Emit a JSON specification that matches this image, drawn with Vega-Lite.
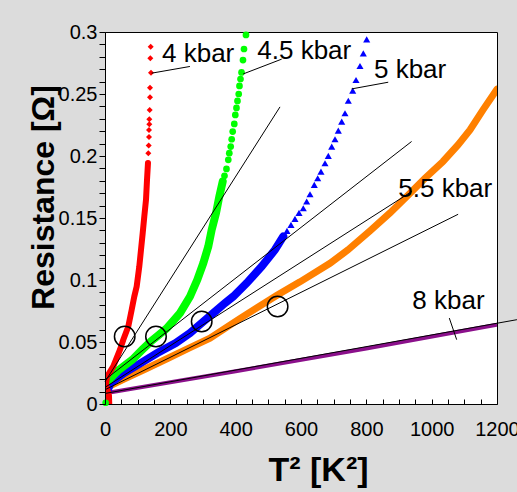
{
  "$schema": "https://vega.github.io/schema/vega-lite/v6.json",
  "width": 392,
  "height": 372,
  "autosize": {"type": "none"},
  "padding": {"left": 105, "top": 32, "right": 20, "bottom": 88},
  "background": "#dcdcdc",
  "config": {
    "view": {"stroke": "black", "strokeWidth": 1, "fill": "white"},
    "font": "Liberation Sans",
    "axis": {"ticks": true, "tickColor": "black", "tickOpacity": 1, "tickWidth": 1}
  },
  "datasets": {
    "bands": [
      {"s": "4 kbar", "i": 0, "x": 13, "y": 0},
      {"s": "4 kbar", "i": 1, "x": 12.2, "y": 0.0067},
      {"s": "4 kbar", "i": 2, "x": 3.1, "y": 0.0156},
      {"s": "4 kbar", "i": 3, "x": 6.1, "y": 0.022},
      {"s": "4 kbar", "i": 4, "x": 25.4, "y": 0.0303},
      {"s": "4 kbar", "i": 5, "x": 45.9, "y": 0.0438},
      {"s": "4 kbar", "i": 6, "x": 56.0, "y": 0.0518},
      {"s": "4 kbar", "i": 7, "x": 71.3, "y": 0.0625},
      {"s": "4 kbar", "i": 8, "x": 81.7, "y": 0.076},
      {"s": "4 kbar", "i": 9, "x": 89.7, "y": 0.0867},
      {"s": "4 kbar", "i": 10, "x": 97.0, "y": 0.0948},
      {"s": "4 kbar", "i": 11, "x": 105.0, "y": 0.1109},
      {"s": "4 kbar", "i": 12, "x": 110.2, "y": 0.1244},
      {"s": "4 kbar", "i": 13, "x": 115.4, "y": 0.1378},
      {"s": "4 kbar", "i": 14, "x": 120.3, "y": 0.1512},
      {"s": "4 kbar", "i": 15, "x": 125.5, "y": 0.1646},
      {"s": "4 kbar", "i": 16, "x": 128.6, "y": 0.1807},
      {"s": "4 kbar", "i": 17, "x": 131.6, "y": 0.1944},
      {"s": "4.5 kbar", "i": 0, "x": 0, "y": 0.0172},
      {"s": "4.5 kbar", "i": 1, "x": 12.2, "y": 0.0196},
      {"s": "4.5 kbar", "i": 2, "x": 42.9, "y": 0.0276},
      {"s": "4.5 kbar", "i": 3, "x": 83.6, "y": 0.0357},
      {"s": "4.5 kbar", "i": 4, "x": 114.2, "y": 0.0438},
      {"s": "4.5 kbar", "i": 5, "x": 139.3, "y": 0.0502},
      {"s": "4.5 kbar", "i": 6, "x": 163.2, "y": 0.0553},
      {"s": "4.5 kbar", "i": 7, "x": 188.9, "y": 0.061},
      {"s": "4.5 kbar", "i": 8, "x": 229.6, "y": 0.0733},
      {"s": "4.5 kbar", "i": 9, "x": 260.2, "y": 0.0867},
      {"s": "4.5 kbar", "i": 10, "x": 282.5, "y": 0.1002},
      {"s": "4.5 kbar", "i": 11, "x": 300.9, "y": 0.1136},
      {"s": "4.5 kbar", "i": 12, "x": 316.2, "y": 0.127},
      {"s": "4.5 kbar", "i": 13, "x": 326.6, "y": 0.1405},
      {"s": "4.5 kbar", "i": 14, "x": 339.8, "y": 0.1539},
      {"s": "4.5 kbar", "i": 15, "x": 349.9, "y": 0.1673},
      {"s": "4.5 kbar", "i": 16, "x": 360.3, "y": 0.1794},
      {"s": "5 kbar", "i": 0, "x": 6, "y": 0.0},
      {"s": "5 kbar", "i": 1, "x": 6, "y": 0.0099},
      {"s": "5 kbar", "i": 2, "x": 17.4, "y": 0.0169},
      {"s": "5 kbar", "i": 3, "x": 58.2, "y": 0.025},
      {"s": "5 kbar", "i": 4, "x": 109.3, "y": 0.033},
      {"s": "5 kbar", "i": 5, "x": 160.1, "y": 0.0411},
      {"s": "5 kbar", "i": 6, "x": 216.4, "y": 0.0492},
      {"s": "5 kbar", "i": 7, "x": 260.2, "y": 0.0572},
      {"s": "5 kbar", "i": 8, "x": 296.0, "y": 0.0653},
      {"s": "5 kbar", "i": 9, "x": 331.5, "y": 0.0733},
      {"s": "5 kbar", "i": 10, "x": 367.3, "y": 0.0814},
      {"s": "5 kbar", "i": 11, "x": 392.7, "y": 0.0867},
      {"s": "5 kbar", "i": 12, "x": 433.8, "y": 0.0975},
      {"s": "5 kbar", "i": 13, "x": 479.7, "y": 0.1109},
      {"s": "5 kbar", "i": 14, "x": 520.4, "y": 0.1244},
      {"s": "5 kbar", "i": 15, "x": 545.8, "y": 0.1351},
      {"s": "5.5 kbar", "i": 0, "x": 0, "y": 0.0127},
      {"s": "5.5 kbar", "i": 1, "x": 61.2, "y": 0.0204},
      {"s": "5.5 kbar", "i": 2, "x": 125.5, "y": 0.0284},
      {"s": "5.5 kbar", "i": 3, "x": 192.8, "y": 0.0369},
      {"s": "5.5 kbar", "i": 4, "x": 260.2, "y": 0.0454},
      {"s": "5.5 kbar", "i": 5, "x": 321.4, "y": 0.053},
      {"s": "5.5 kbar", "i": 6, "x": 416.3, "y": 0.0695},
      {"s": "5.5 kbar", "i": 7, "x": 526.5, "y": 0.0877},
      {"s": "5.5 kbar", "i": 8, "x": 596.9, "y": 0.0985},
      {"s": "5.5 kbar", "i": 9, "x": 688.8, "y": 0.1135},
      {"s": "5.5 kbar", "i": 10, "x": 743.9, "y": 0.1243},
      {"s": "5.5 kbar", "i": 11, "x": 811.2, "y": 0.1396},
      {"s": "5.5 kbar", "i": 12, "x": 872.4, "y": 0.1541},
      {"s": "5.5 kbar", "i": 13, "x": 924.5, "y": 0.1676},
      {"s": "5.5 kbar", "i": 14, "x": 979.6, "y": 0.1821},
      {"s": "5.5 kbar", "i": 15, "x": 1034.7, "y": 0.1956},
      {"s": "5.5 kbar", "i": 16, "x": 1080.6, "y": 0.2089},
      {"s": "5.5 kbar", "i": 17, "x": 1117.3, "y": 0.221},
      {"s": "5.5 kbar", "i": 18, "x": 1157.1, "y": 0.2372},
      {"s": "5.5 kbar", "i": 19, "x": 1200, "y": 0.2538},
      {"s": "8 kbar", "i": 0, "x": 0, "y": 0.0087},
      {"s": "8 kbar", "i": 1, "x": 400, "y": 0.0264},
      {"s": "8 kbar", "i": 2, "x": 800, "y": 0.0448},
      {"s": "8 kbar", "i": 3, "x": 1076.6, "y": 0.058},
      {"s": "8 kbar", "i": 4, "x": 1200, "y": 0.0639}
    ],
    "markers": [
      {"s": "4 kbar", "x": 132.6, "y": 0.2023},
      {"s": "4 kbar", "x": 133.8, "y": 0.2084},
      {"s": "4 kbar", "x": 134.7, "y": 0.2154},
      {"s": "4 kbar", "x": 134.7, "y": 0.221},
      {"s": "4 kbar", "x": 135.6, "y": 0.2256},
      {"s": "4 kbar", "x": 135.6, "y": 0.2297},
      {"s": "4 kbar", "x": 136.8, "y": 0.2371},
      {"s": "4 kbar", "x": 137.7, "y": 0.2474},
      {"s": "4 kbar", "x": 137.7, "y": 0.2551},
      {"s": "4 kbar", "x": 140.8, "y": 0.2672},
      {"s": "4 kbar", "x": 138.7, "y": 0.2788},
      {"s": "4 kbar", "x": 139.9, "y": 0.2882},
      {"s": "4.5 kbar", "x": 2, "y": 0.001},
      {"s": "4.5 kbar", "x": 365.8, "y": 0.184},
      {"s": "4.5 kbar", "x": 371.9, "y": 0.1896},
      {"s": "4.5 kbar", "x": 377.4, "y": 0.1969},
      {"s": "4.5 kbar", "x": 380.5, "y": 0.2023},
      {"s": "4.5 kbar", "x": 384.8, "y": 0.2076},
      {"s": "4.5 kbar", "x": 387.8, "y": 0.2135},
      {"s": "4.5 kbar", "x": 390.9, "y": 0.2197},
      {"s": "4.5 kbar", "x": 395.8, "y": 0.2259},
      {"s": "4.5 kbar", "x": 398.9, "y": 0.2331},
      {"s": "4.5 kbar", "x": 402.5, "y": 0.2388},
      {"s": "4.5 kbar", "x": 405.6, "y": 0.2444},
      {"s": "4.5 kbar", "x": 409.3, "y": 0.25},
      {"s": "4.5 kbar", "x": 411.7, "y": 0.2565},
      {"s": "4.5 kbar", "x": 414.8, "y": 0.2621},
      {"s": "4.5 kbar", "x": 417.9, "y": 0.2674},
      {"s": "4.5 kbar", "x": 422.4, "y": 0.2774},
      {"s": "4.5 kbar", "x": 425.5, "y": 0.2863},
      {"s": "4.5 kbar", "x": 431.6, "y": 0.2976},
      {"s": "5 kbar", "x": 557.1, "y": 0.1396},
      {"s": "5 kbar", "x": 569.4, "y": 0.1445},
      {"s": "5 kbar", "x": 581.6, "y": 0.1493},
      {"s": "5 kbar", "x": 593.9, "y": 0.1541},
      {"s": "5 kbar", "x": 607.0, "y": 0.1579},
      {"s": "5 kbar", "x": 617.4, "y": 0.1633},
      {"s": "5 kbar", "x": 627.6, "y": 0.1692},
      {"s": "5 kbar", "x": 640.7, "y": 0.1767},
      {"s": "5 kbar", "x": 651.1, "y": 0.1821},
      {"s": "5 kbar", "x": 661.2, "y": 0.1874},
      {"s": "5 kbar", "x": 673.5, "y": 0.1942},
      {"s": "5 kbar", "x": 683.6, "y": 0.2001},
      {"s": "5 kbar", "x": 694.0, "y": 0.2076},
      {"s": "5 kbar", "x": 704.1, "y": 0.2135},
      {"s": "5 kbar", "x": 714.2, "y": 0.2205},
      {"s": "5 kbar", "x": 724.6, "y": 0.2277},
      {"s": "5 kbar", "x": 734.7, "y": 0.2345},
      {"s": "5 kbar", "x": 744.8, "y": 0.2446},
      {"s": "5 kbar", "x": 758.3, "y": 0.2527},
      {"s": "5 kbar", "x": 768.4, "y": 0.2613},
      {"s": "5 kbar", "x": 780.6, "y": 0.2726},
      {"s": "5 kbar", "x": 790.7, "y": 0.2828},
      {"s": "5 kbar", "x": 801.1, "y": 0.2941}
    ],
    "fits": [
      {"k": "4 kbar fit", "x": 0, "y": 0.018, "x2": 535.7, "y2": 0.2396},
      {"k": "4.5 kbar fit", "x": 0, "y": 0.0196, "x2": 938.6, "y2": 0.2117},
      {"k": "5 kbar fit", "x": 0, "y": 0.0134, "x2": 939.8, "y2": 0.1715},
      {"k": "5.5 kbar fit", "x": 0, "y": 0.0115, "x2": 1081, "y2": 0.153},
      {"k": "8 kbar fit", "x": 0, "y": 0.0085, "x2": 1261, "y2": 0.068},
      {"k": "4 kbar pointer", "x": 142.8, "y": 0.2668, "x2": 260, "y2": 0.2722},
      {"k": "4.5 kbar pointer", "x": 423.2, "y": 0.2662, "x2": 540.8, "y2": 0.2781},
      {"k": "5 kbar pointer", "x": 755, "y": 0.2541, "x2": 867, "y2": 0.2595},
      {"k": "8 kbar pointer", "x": 1054, "y": 0.0693, "x2": 1076.5, "y2": 0.0519}
    ],
    "circles": [
      {"x": 60.3, "y": 0.0545},
      {"x": 156.1, "y": 0.0545},
      {"x": 296, "y": 0.0666},
      {"x": 528.4, "y": 0.0787}
    ],
    "labels": [
      {"t": "4 kbar", "x": 174.5, "y": 0.2761},
      {"t": "4.5 kbar", "x": 466.2, "y": 0.2781},
      {"t": "5 kbar", "x": 823.4, "y": 0.2633},
      {"t": "5.5 kbar", "x": 897.8, "y": 0.1668},
      {"t": "8 kbar", "x": 940.7, "y": 0.0766}
    ]
  },
  "encoding": {
    "x": {
      "field": "x",
      "type": "quantitative",
      "scale": {"domain": [0, 1200], "nice": false, "zero": false},
      "axis": {
        "values": [0, 50, 100, 150, 200, 250, 300, 350, 400, 450, 500, 550, 600, 650, 700, 750, 800, 850, 900, 950, 1000, 1050, 1100, 1150, 1200],
        "format": "d",
        "labelExpr": "datum.value % 200 === 0 ? datum.label : ''",
        "offset": -5,
        "domain": false,
        "tickSize": 5,
        "zindex": 1,
        "labelColor": "black",
        "labelFont": "Liberation Sans",
        "labelFontSize": 20,
        "labelPadding": 15,
        "labelOverlap": false,
        "labelFlush": false,
        "grid": false,
        "title": "T² [K²]",
        "titleFont": "Liberation Sans",
        "titleFontSize": 34,
        "titleFontWeight": "bold",
        "titleColor": "black",
        "titleX": 213,
        "titleY": 81,
        "titleAlign": "center",
        "titleBaseline": "alphabetic"
      }
    },
    "y": {
      "field": "y",
      "type": "quantitative",
      "scale": {"domain": [0, 0.3], "nice": false, "zero": false},
      "axis": {
        "values": [0, 0.01, 0.02, 0.03, 0.04, 0.05, 0.06, 0.07, 0.08, 0.09, 0.1, 0.11, 0.12, 0.13, 0.14, 0.15, 0.16, 0.17, 0.18, 0.19, 0.2, 0.21, 0.22, 0.23, 0.24, 0.25, 0.26, 0.27, 0.28, 0.29, 0.3],
        "format": ".2~f",
        "labelExpr": "round(datum.value * 100) % 5 === 0 ? datum.label : ''",
        "domain": true,
        "domainColor": "black",
        "tickSize": 6,
        "zindex": 1,
        "labelColor": "black",
        "labelFont": "Liberation Sans",
        "labelFontSize": 20,
        "labelPadding": 2,
        "labelOverlap": false,
        "labelFlush": false,
        "grid": false,
        "title": "Resistance [Ω]",
        "titleFont": "Liberation Sans",
        "titleFontSize": 32,
        "titleFontWeight": "bold",
        "titleColor": "black",
        "titleAngle": 270,
        "titleX": -52,
        "titleY": 165,
        "titleAlign": "center",
        "titleBaseline": "alphabetic"
      }
    }
  },
  "layer": [
    {
      "data": {"name": "bands"},
      "transform": [{"filter": "datum.s === '8 kbar'"}],
      "mark": {"type": "line", "color": "#8b108b", "strokeWidth": 4, "clip": true},
      "encoding": {"order": {"field": "i", "type": "quantitative"}}
    },
    {
      "data": {"name": "bands"},
      "transform": [{"filter": "datum.s === '5.5 kbar'"}],
      "mark": {"type": "line", "color": "#ff8000", "strokeWidth": 7, "strokeCap": "round", "clip": true},
      "encoding": {"order": {"field": "i", "type": "quantitative"}}
    },
    {
      "data": {"name": "bands"},
      "transform": [{"filter": "datum.s === '5 kbar'"}],
      "mark": {"type": "line", "color": "#0000ff", "strokeWidth": 8, "strokeCap": "round", "clip": true},
      "encoding": {"order": {"field": "i", "type": "quantitative"}}
    },
    {
      "data": {"name": "bands"},
      "transform": [{"filter": "datum.s === '4.5 kbar'"}],
      "mark": {"type": "line", "color": "#00ff00", "strokeWidth": 8, "strokeCap": "round", "clip": true},
      "encoding": {"order": {"field": "i", "type": "quantitative"}}
    },
    {
      "data": {"name": "bands"},
      "transform": [{"filter": "datum.s === '4 kbar'"}],
      "mark": {"type": "line", "color": "#ff0000", "strokeWidth": 6, "strokeCap": "round", "clip": true},
      "encoding": {"order": {"field": "i", "type": "quantitative"}}
    },
    {
      "data": {"name": "markers"},
      "transform": [{"filter": "datum.s === '4 kbar'"}],
      "mark": {"type": "point", "shape": "diamond", "filled": true, "color": "#ff0000", "size": 36, "opacity": 1}
    },
    {
      "data": {"name": "markers"},
      "transform": [{"filter": "datum.s === '4.5 kbar'"}],
      "mark": {"type": "point", "shape": "circle", "filled": true, "color": "#00ff00", "size": 45, "opacity": 1}
    },
    {
      "data": {"name": "markers"},
      "transform": [{"filter": "datum.s === '5 kbar'"}],
      "mark": {"type": "point", "shape": "triangle-up", "filled": true, "color": "#0000ff", "size": 50, "opacity": 1}
    },
    {
      "data": {"name": "fits"},
      "mark": {"type": "rule", "color": "black", "strokeWidth": 1},
      "encoding": {"x2": {"field": "x2"}, "y2": {"field": "y2"}}
    },
    {
      "data": {"name": "circles"},
      "mark": {"type": "point", "shape": "circle", "filled": false, "size": 420, "stroke": "black", "strokeWidth": 1.5, "opacity": 1}
    },
    {
      "data": {"name": "labels"},
      "mark": {"type": "text", "align": "left", "baseline": "alphabetic", "font": "Liberation Sans", "fontSize": 26, "color": "black"},
      "encoding": {"text": {"field": "t", "type": "nominal"}}
    }
  ]
}
